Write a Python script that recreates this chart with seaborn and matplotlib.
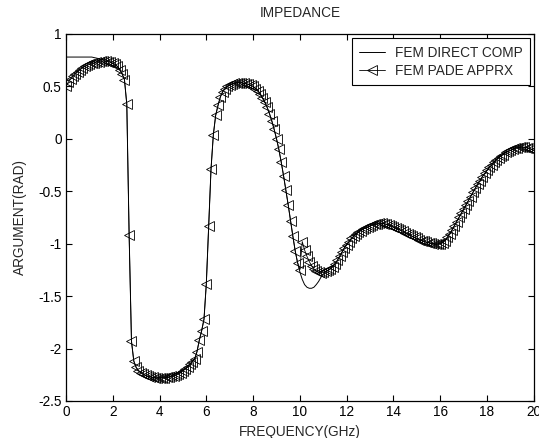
import numpy as np
import pandas as pd
import seaborn as sns
import matplotlib
matplotlib.use("Agg")
import matplotlib.pyplot as plt
from matplotlib.ticker import FuncFormatter

# frequency grid (GHz), one sample every 0.1 GHz
freq = np.round(np.arange(0, 201) * 0.1, 1)

# FEM PADE APPRX
pade = [
    0.50, 0.54, 0.57, 0.60, 0.62, 0.64, 0.66, 0.675, 0.69, 0.70,        # 0.0 - 0.9
    0.71, 0.72, 0.725, 0.73, 0.735, 0.74, 0.74, 0.74, 0.735, 0.73,      # 1.0 - 1.9
    0.72, 0.71, 0.69, 0.66, 0.62, 0.565, 0.33, -0.92, -1.93, -2.12,     # 2.0 - 2.9
    -2.18, -2.21, -2.23, -2.245, -2.255, -2.265, -2.27, -2.275, -2.28, -2.28,  # 3.0 - 3.9
    -2.28, -2.28, -2.28, -2.275, -2.27, -2.265, -2.26, -2.25, -2.24, -2.23,    # 4.0 - 4.9
    -2.21, -2.195, -2.175, -2.15, -2.125, -2.10, -2.03, -1.92, -1.83, -1.72,   # 5.0 - 5.9
    -1.38, -0.83, -0.29, 0.04, 0.225, 0.32, 0.40, 0.45, 0.48, 0.50,     # 6.0 - 6.9
    0.515, 0.525, 0.53, 0.535, 0.535, 0.535, 0.53, 0.525, 0.52, 0.51,   # 7.0 - 7.9
    0.50, 0.48, 0.46, 0.43, 0.39, 0.35, 0.30, 0.24, 0.17, 0.09,         # 8.0 - 8.9
    0.00, -0.10, -0.22, -0.35, -0.49, -0.63, -0.78, -0.93, -1.07, -1.18,  # 9.0 - 9.9
    -1.25, -0.98, -1.06, -1.12, -1.17, -1.21, -1.24, -1.26, -1.27, -1.275,  # 10.0 - 10.9
    -1.27, -1.265, -1.255, -1.24, -1.22, -1.19, -1.16, -1.12, -1.08, -1.04,  # 11.0 - 11.9
    -1.01, -0.98, -0.95, -0.93, -0.91, -0.89, -0.875, -0.86, -0.85, -0.84,   # 12.0 - 12.9
    -0.83, -0.82, -0.815, -0.81, -0.805, -0.805, -0.81, -0.815, -0.82, -0.83,  # 13.0 - 13.9
    -0.84, -0.85, -0.86, -0.87, -0.88, -0.895, -0.905, -0.915, -0.93, -0.94,   # 14.0 - 14.9
    -0.95, -0.96, -0.97, -0.975, -0.985, -0.99, -0.995, -1.0, -1.005, -1.005,  # 15.0 - 15.9
    -1.00, -0.99, -0.97, -0.94, -0.91, -0.87, -0.83, -0.79, -0.75, -0.71,      # 16.0 - 16.9
    -0.67, -0.63, -0.59, -0.55, -0.51, -0.47, -0.43, -0.40, -0.36, -0.33,      # 17.0 - 17.9
    -0.30, -0.27, -0.25, -0.22, -0.20, -0.18, -0.16, -0.15, -0.13, -0.12,      # 18.0 - 18.9
    -0.11, -0.10, -0.09, -0.085, -0.08, -0.08, -0.08, -0.085, -0.09, -0.10,    # 19.0 - 19.9
    -0.11,                                                                     # 20.0
]

# FEM DIRECT COMP
direct = [
    0.78, 0.78, 0.78, 0.78, 0.78, 0.78, 0.78, 0.78, 0.78, 0.78,
    0.78, 0.78, 0.775, 0.77, 0.765, 0.76, 0.755, 0.75, 0.745, 0.735,
    0.72, 0.71, 0.69, 0.66, 0.62, 0.565, 0.33, -0.92, -1.93, -2.12,
    -2.18, -2.21, -2.23, -2.245, -2.255, -2.265, -2.27, -2.275, -2.28, -2.28,
    -2.28, -2.28, -2.28, -2.275, -2.27, -2.265, -2.26, -2.25, -2.24, -2.23,
    -2.21, -2.195, -2.175, -2.15, -2.125, -2.10, -2.03, -1.92, -1.83, -1.72,
    -1.38, -0.83, -0.29, 0.04, 0.225, 0.32, 0.40, 0.45, 0.48, 0.50,
    0.515, 0.525, 0.53, 0.535, 0.535, 0.535, 0.53, 0.525, 0.52, 0.51,
    0.50, 0.48, 0.46, 0.43, 0.39, 0.35, 0.30, 0.24, 0.17, 0.09,
    0.00, -0.10, -0.22, -0.35, -0.49, -0.63, -0.78, -0.93, -1.07, -1.18,
    -1.27, -1.34, -1.39, -1.415, -1.425, -1.425, -1.415, -1.39, -1.36, -1.32,
    -1.29, -1.27, -1.255, -1.24, -1.22, -1.19, -1.16, -1.12, -1.08, -1.04,
    -1.01, -0.98, -0.95, -0.93, -0.91, -0.89, -0.875, -0.86, -0.85, -0.84,
    -0.83, -0.82, -0.815, -0.81, -0.805, -0.805, -0.81, -0.815, -0.82, -0.83,
    -0.84, -0.85, -0.86, -0.87, -0.88, -0.895, -0.905, -0.915, -0.93, -0.94,
    -0.95, -0.96, -0.97, -0.975, -0.985, -0.99, -0.995, -1.0, -1.005, -1.005,
    -1.00, -0.99, -0.97, -0.94, -0.91, -0.87, -0.83, -0.79, -0.75, -0.71,
    -0.67, -0.63, -0.59, -0.55, -0.51, -0.47, -0.43, -0.40, -0.36, -0.33,
    -0.30, -0.27, -0.25, -0.22, -0.20, -0.18, -0.16, -0.15, -0.13, -0.12,
    -0.11, -0.10, -0.09, -0.085, -0.08, -0.08, -0.08, -0.085, -0.09, -0.10,
    -0.11,
]

x_ticks = [0, 2, 4, 6, 8, 10, 12, 14, 16, 18, 20]
y_ticks = [-2.5, -2, -1.5, -1, -0.5, 0, 0.5, 1]

df = pd.DataFrame({'freq': freq, 'direct': direct, 'pade': pade})

sns.set_style("ticks")
plt.rcParams['font.family'] = ['Liberation Sans', 'DejaVu Sans']
plt.rcParams['axes.unicode_minus'] = False
fs = 9.8

fig = plt.figure(figsize=(5.39, 4.38), dpi=100)
ax = fig.add_axes([0.1224, 0.0845, 0.868, 0.8379])

sns.lineplot(data=df, x='freq', y='direct', color='black', linewidth=0.7,
             label='FEM DIRECT COMP', ax=ax)
sns.lineplot(data=df, x='freq', y='pade', color='black', linewidth=0.6,
             marker='<', markersize=7, markerfacecolor='none',
             markeredgecolor='black', markeredgewidth=0.6,
             label='FEM PADE APPRX', ax=ax)

ax.set_xlim(0, 20)
ax.set_ylim(-2.5, 1)
ax.set_xticks(x_ticks)
ax.set_yticks(y_ticks)
ax.yaxis.set_major_formatter(FuncFormatter(lambda v, p: '%g' % v))
ax.tick_params(direction='in', length=4, width=0.8, top=True, right=True,
               labelsize=fs, colors='black', pad=3)
for s in ax.spines.values():
    s.set_visible(True)
    s.set_linewidth(0.9)
    s.set_color('black')

ax.set_xlabel('FREQUENCY(GHz)', fontsize=fs, labelpad=4)
ax.set_ylabel('ARGUMENT(RAD)', fontsize=fs, labelpad=8)
ax.set_title('IMPEDANCE', fontsize=fs, pad=12)

leg = ax.legend(loc='upper right', fontsize=fs, frameon=True, fancybox=False,
                edgecolor='black', framealpha=1, borderaxespad=0.3,
                handlelength=1.9, borderpad=0.55, labelspacing=0.3,
                handletextpad=0.7)
leg.get_frame().set_linewidth(0.8)

fig.savefig('out.png', dpi=100, facecolor='white')
